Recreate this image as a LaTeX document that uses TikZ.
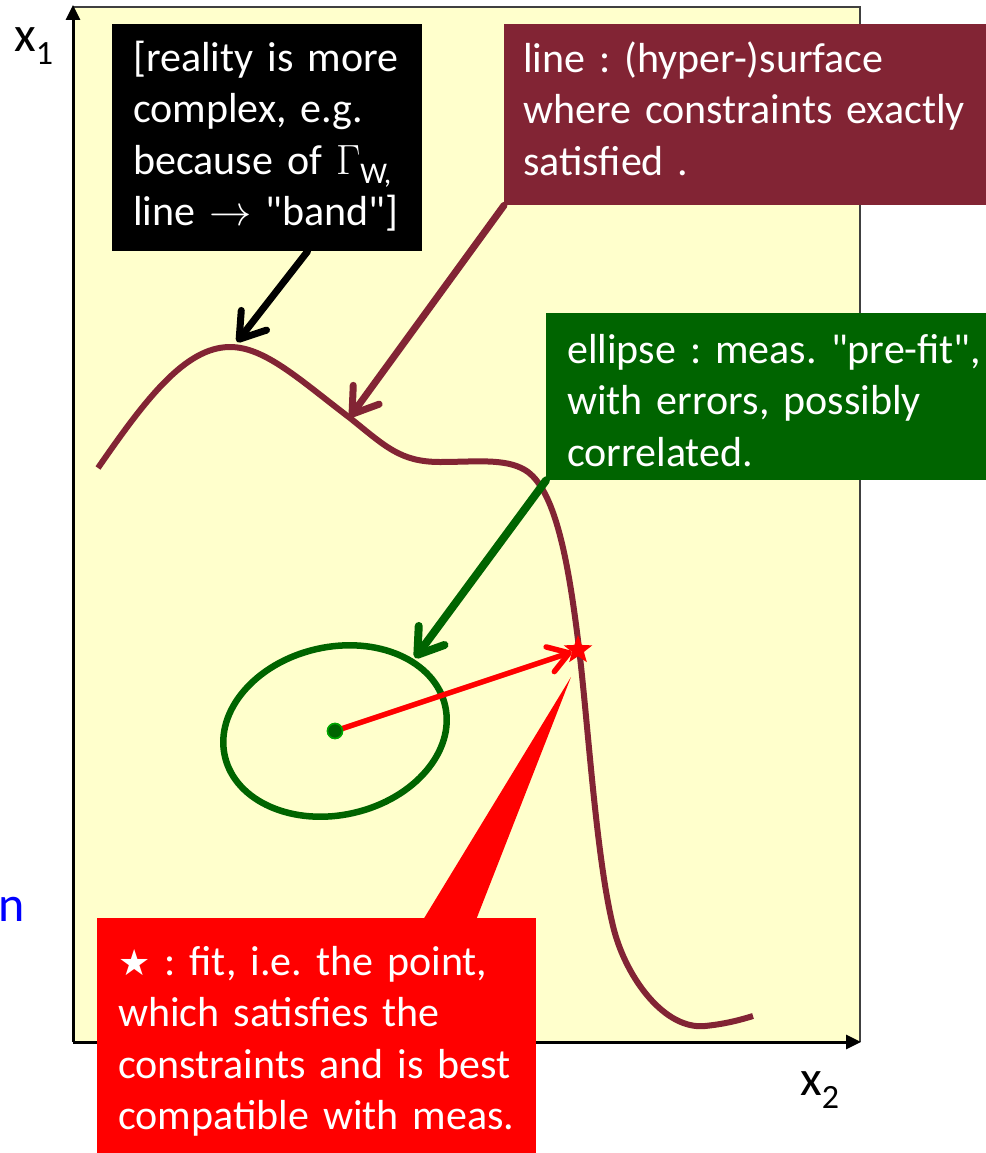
\documentclass[tikz,border=0pt]{standalone}
\usepackage[no-math]{fontspec}
\setmainfont{Carlito}
\newfontfamily\symbolfont{DejaVu Sans}
\usetikzlibrary{calc, positioning}
\usetikzlibrary{arrows.meta}
\usetikzlibrary{shapes.geometric}

\definecolor{paper}{RGB}{255,255,204}
\definecolor{wine}{RGB}{130,36,52}
\definecolor{leaf}{RGB}{0,100,0}

% math symbols at slide size
\newcommand{\bigmath}[1]{\scalebox{1.7}{\fontsize{24.88}{30}\selectfont$#1$}}
\frenchspacing

\begin{document}
\begin{tikzpicture}[x=1pt, y=-1pt,
  textbox/.style={anchor=north west, inner ysep=0pt, inner xsep=21pt, text=white,
    align=left, font=\fontsize{42}{51.5}\selectfont},
  pointer/.style={-{Straight Barb[length=24pt, width=32pt, round]}, line width=7pt, line cap=round},
  axis/.style={-{Triangle[length=15pt, width=14pt]}, line width=3pt},
  axislabel/.style={inner sep=0pt, font=\fontsize{50}{60}\selectfont}]
\useasboundingbox (0,0) rectangle (985,1153);

% Plot area
\fill[paper] (73,7) rectangle (860,1042);
\draw[line width=1.5pt, black!75] (73,7) -- (860,7) -- (860,1042);

% Axes
\coordinate (O) at (73,1042);
\coordinate (Xone) at (73,5);
\coordinate (Xtwo) at (861,1042);
\draw[axis] (O) -- (Xone);
\draw[axis] (O) -- (Xtwo);

\node[axislabel, anchor=base west] (xonelabel) at (14,52) {x\raisebox{-13pt}{\fontsize{34}{34}\selectfont 1}};
\node[axislabel, anchor=base west] (xtwolabel) at (800,1095) {x\raisebox{-13pt}{\fontsize{34}{34}\selectfont 2}};
\node[axislabel, anchor=base east, text=blue] (cutlabel) at (25,921) {n};

% Constraint surface
\draw[wine, line width=6pt]
  (98,468) .. controls (145,400) and (185,347) .. (230,347)
  .. controls (265,347) and (300,380) .. (350,418)
  .. controls (385,446) and (400,462) .. (440,462)
  .. controls (475,462) and (505,458) .. (525,470)
  .. controls (555,488) and (568,560) .. (578,640)
  .. controls (588,720) and (596,860) .. (614,930)
  .. controls (627,979) and (665,1030) .. (705,1026)
  .. controls (725,1024) and (740,1020) .. (753,1016);

% Measurement ellipse
\draw[leaf, line width=6.5pt, rotate around={13:(335,731)}] (335,731) ellipse[x radius=113pt, y radius=84pt];

% Fit point and measurement
\node[star, star points=5, star point ratio=2.4, fill=red, minimum size=30pt, inner sep=0pt] (fit) at (578,650) {};
\node[circle, fill=leaf, draw=green!65!black, line width=1.5pt, minimum size=15pt, inner sep=0pt] (meas) at (335,731) {};
\draw[red, line width=5.5pt, line cap=round, {Straight Barb[length=20pt, width=26pt, round]}-] (fit) -- (meas);
\node[circle, fill=leaf, draw=green!65!black, line width=1.5pt, minimum size=15pt, inner sep=0pt] at (meas) {};

% Callout boxes
\node[textbox, fill=black, text width=268pt, text height=47pt, text depth=180pt] (realbox) at (112,24)
  {[reality is more\\complex, e.g.\\because of \bigmath{\Gamma}\raisebox{-9pt}{\fontsize{30}{30}\selectfont W,}\\line \bigmath{\rightarrow} \textquotedbl band\textquotedbl]};
\node[textbox, fill=wine, inner xsep=19pt, text width=470pt, text height=48pt, text depth=133pt] (surfbox) at (504,24)
  {line : (hyper-)surface\\where constraints exactly\\satisfied .};
\node[textbox, fill=leaf, text width=440pt, text height=50pt, text depth=117pt] (measbox) at (546,313)
  {ellipse : meas. \textquotedbl pre-fit\textquotedbl,\\with errors, possibly\\correlated.};

\coordinate (peak) at (237,342);
\coordinate (onsurf) at (350,417);
\coordinate (onellipse) at (415,658);
\coordinate (wedgetip) at (571,677);

\draw[pointer, black] ($(realbox.south west)!0.63!(realbox.south east)$) -- (peak);
\draw[pointer, wine] (surfbox.south west) -- (onsurf);
\draw[pointer, leaf, line width=8pt] (measbox.south west) -- (onellipse);

% Fit callout
\fill[red] (423,920) -- (wedgetip) -- (476,920) -- cycle;
\node[textbox, fill=red, text width=397pt, text height=57pt, text depth=200pt] (fitbox) at (97,918)
  {{\symbolfont\fontsize{36}{36}\selectfont ★} : fit, i.e. the point,\\which satisfies the\\constraints and is best\\compatible with meas.};
\end{tikzpicture}
\end{document}
